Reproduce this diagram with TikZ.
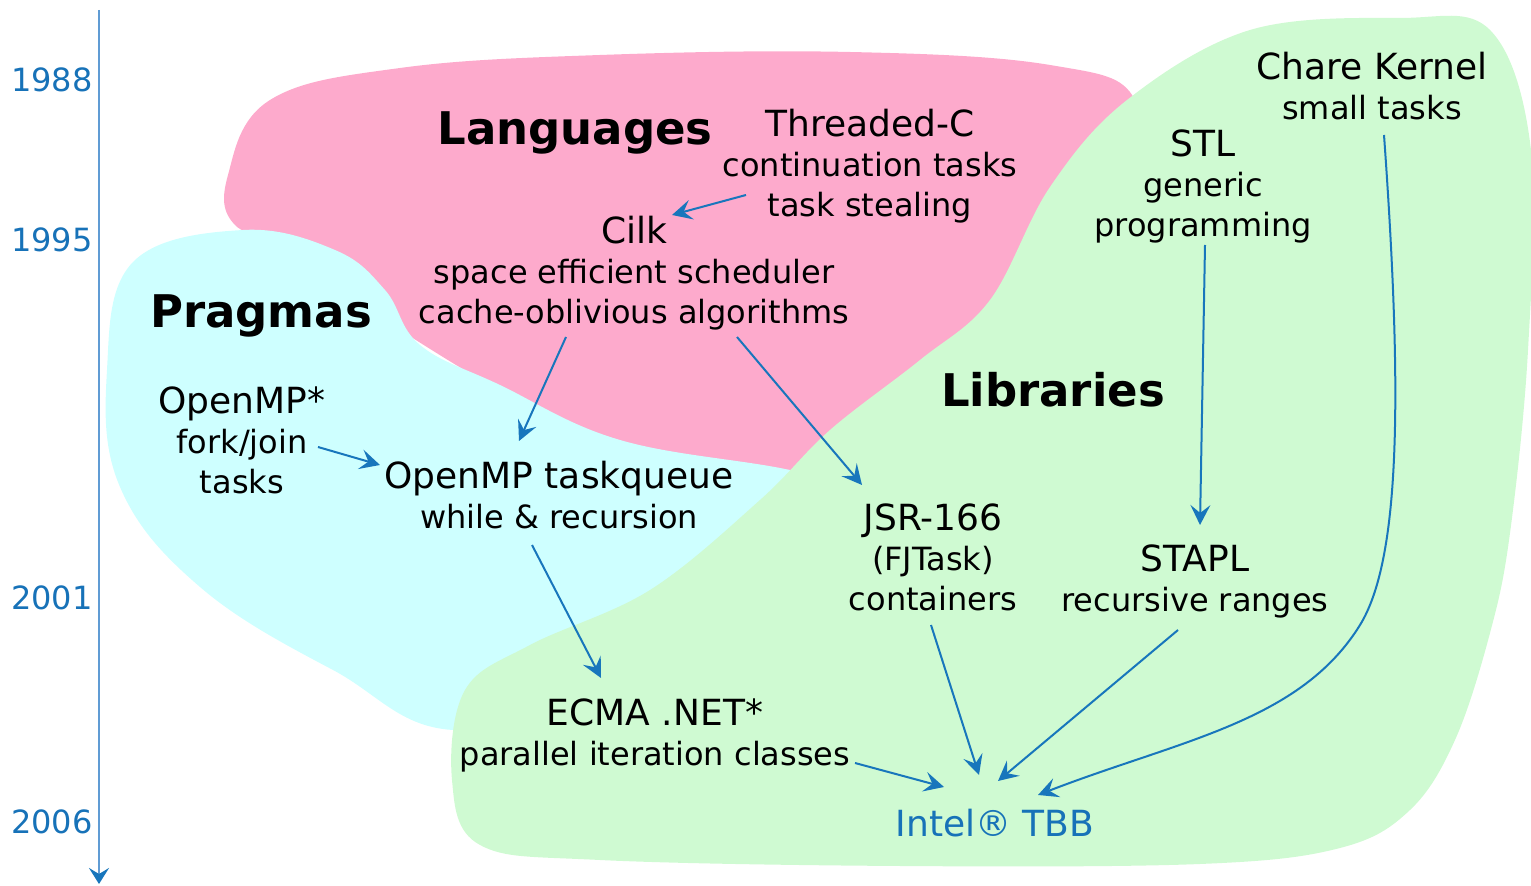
\documentclass[tikz,border=0pt]{standalone}
\usepackage{fontspec}
\setmainfont{DejaVu Sans}
\usetikzlibrary{arrows.meta}

\definecolor{langpink}{RGB}{253,170,204}
\definecolor{pragcyan}{RGB}{206,255,255}
\definecolor{libgreen}{RGB}{207,250,210}
\definecolor{arrowblue}{RGB}{24,118,188}
\definecolor{axisblue}{RGB}{96,156,212}
\definecolor{yearblue}{RGB}{23,114,184}

\newcommand{\itemtitle}[1]{{\fontsize{18}{20}\selectfont #1}}

\begin{document}
\begin{tikzpicture}[
            x = 0.5pt, y = -0.5pt, % pixel grid, y runs downwards
            > = {Stealth[length=10pt,width=10pt,inset=4pt]}, % arrow head style
            conn/.style = {->, draw=arrowblue, line width=1pt},
            item/.style = {align=center, inner sep=0pt, font=\fontsize{16}{20}\selectfont},
            group/.style = {inner sep=0pt, font=\bfseries\fontsize{22.5}{26}\selectfont},
            year/.style = {inner sep=0pt, text=yearblue, font=\fontsize{16}{20}\selectfont}
        ]
	\useasboundingbox (0,0) rectangle (1531,886);

	% the three families
	\fill[langpink] plot[smooth cycle, tension=0.65] coordinates {
		(228,175) (270,100) (400,68) (600,55) (850,52) (1050,65) (1135,100)
		(1120,200) (1040,320) (900,450) (800,490) (600,440) (400,330) (300,250) (235,225)};
	\fill[pragcyan] plot[smooth cycle, tension=0.65] coordinates {
		(243,230) (335,250) (385,290) (420,345) (500,385) (620,440) (790,470)
		(900,500) (700,650) (470,730) (333,670) (200,587) (120,487) (107,370) (133,262)};
	\fill[libgreen] plot[smooth cycle, tension=0.6] coordinates {
		(1127,100) (1250,30) (1400,18) (1490,30) (1531,150) (1528,350) (1510,533)
		(1490,633) (1455,740) (1410,810) (1340,848) (1200,864) (900,866) (600,860)
		(480,845) (452,780) (465,690) (530,645) (650,590) (760,500) (830,430)
		(920,360) (990,300) (1050,187)};

	% time axis
	\coordinate (axtop) at (99,10);
	\coordinate (axbot) at (99,884);
	\draw[draw=axisblue, line width=1.4pt, -{Stealth[length=8pt,width=10pt,inset=3pt,color=arrowblue]}] (axtop) -- (axbot);
	\node[year] (y1988) at (52,80) {1988};
	\node[year] (y1995) at (52,240) {1995};
	\node[year] (y2001) at (52,598) {2001};
	\node[year] (y2006) at (52,822) {2006};

	\node[group] (lang) at (575,133) {Languages};
	\node[group] (prag) at (261,316) {Pragmas};
	\node[group] (lib) at (1053,390) {Libraries};

	\node[item] (threaded) at (870,166) {\itemtitle{Threaded-C}\\ continuation tasks\\ task stealing};
	\node[item] (cilk) at (634,273) {\itemtitle{Cilk}\\ space efficient scheduler\\ cache-oblivious algorithms};
	\node[item] (omp) at (242,440) {\itemtitle{OpenMP*}\\ fork/join\\ tasks};
	\node[item] (taskq) at (559,495) {\itemtitle{OpenMP taskqueue}\\ while \& recursion};
	\node[item] (chare) at (1372,86) {\itemtitle{Chare Kernel}\\ small tasks};
	\node[item] (stl) at (1203,186) {\itemtitle{STL}\\ generic\\ programming};
	\node[item] (jsr) at (933,557) {\itemtitle{JSR-166}\\ (FJTask)\\ containers};
	\node[item] (stapl) at (1195,581) {\itemtitle{STAPL}\\ recursive ranges};
	\node[item] (ecma) at (655,735) {\itemtitle{ECMA .NET*}\\ parallel iteration classes};
	\node[item, text=yearblue, font=\fontsize{18}{20}\selectfont] (tbb) at (995,823) {Intel® TBB};

	\draw[conn] ([shift={(-124,29)}]threaded.center) -- ([shift={(38,-58)}]cilk.center);
	\draw[conn] ([shift={(-68,64)}]cilk.center) -- ([shift={(-40,-54)}]taskq.center);
	\draw[conn] ([shift={(103,64)}]cilk.center) -- ([shift={(-71,-72)}]jsr.center);
	\draw[conn] ([shift={(76,7)}]omp.center) -- ([shift={(-179,-30)}]taskq.center);
	\draw[conn] ([shift={(-27,50)}]taskq.center) -- ([shift={(-54,-57)}]ecma.center);
	\draw[conn] ([shift={(200,28)}]ecma.center) -- ([shift={(-51,-36)}]tbb.center);
	\draw[conn] ([shift={(-2,68)}]jsr.center) -- ([shift={(-16,-48)}]tbb.center);
	\draw[conn] ([shift={(-17,49)}]stapl.center) -- ([shift={(3,-42)}]tbb.center);
	\draw[conn] ([shift={(2,59)}]stl.center) -- ([shift={(5,-56)}]stapl.center);
	\draw[conn] ([shift={(12,49)}]chare.center) .. controls (1403,400) and (1400,560) .. (1360,625)
		.. controls (1300,722) and (1180,740) .. ([shift={(43,-28)}]tbb.center);

\end{tikzpicture}
\end{document}
